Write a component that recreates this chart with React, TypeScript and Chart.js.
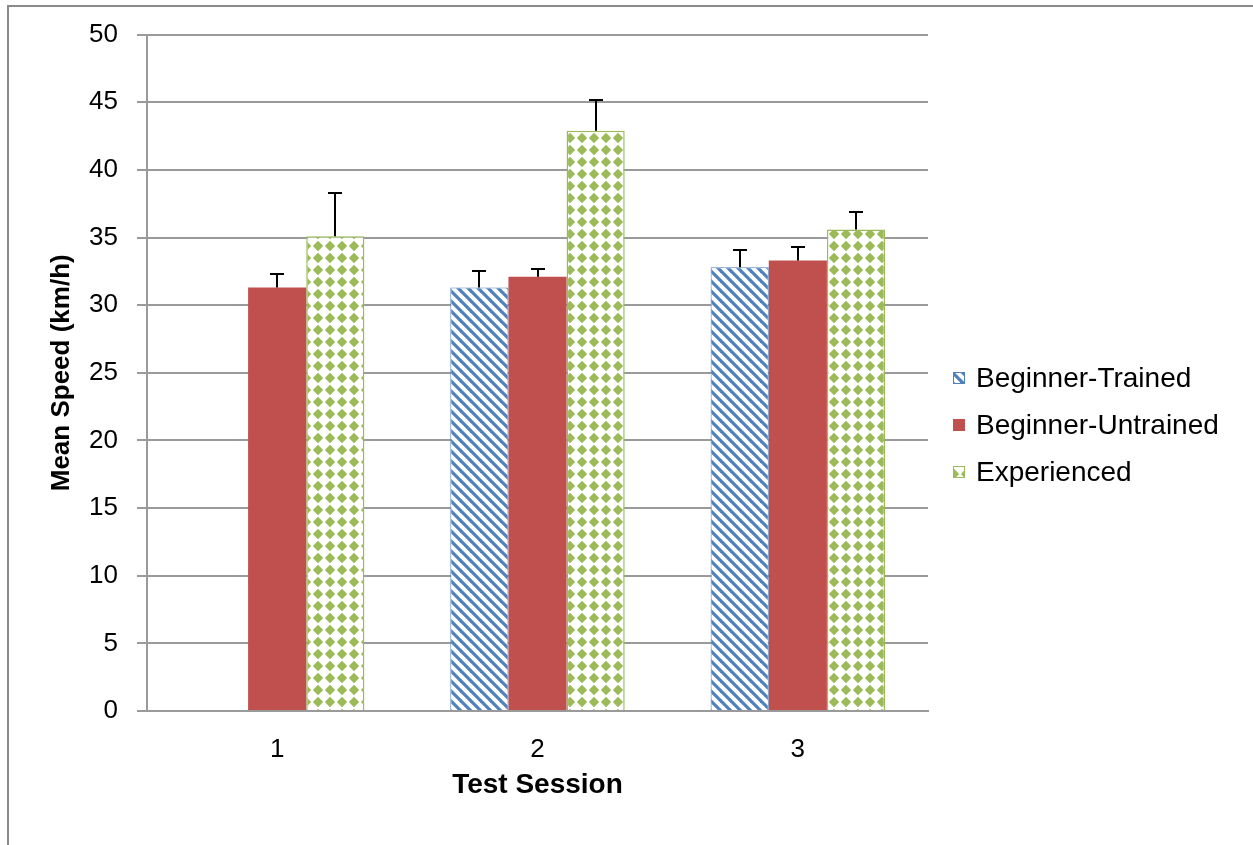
import React, { useEffect, useRef } from 'react';
import { Chart, registerables } from 'chart.js';

Chart.register(...registerables);

const categories = ['1', '2', '3'];
const seriesNames = ['Beginner-Trained', 'Beginner-Untrained', 'Experienced'];
const beginnerTrained: (number | null)[] = [null, 31.3, 32.8];
const beginnerUntrained: (number | null)[] = [31.3, 32.1, 33.3];
const experienced: (number | null)[] = [35.1, 42.9, 35.6];
const beginnerTrainedErr: (number | null)[] = [null, 1.2, 1.3];
const beginnerUntrainedErr: (number | null)[] = [1.0, 0.6, 1.0];
const experiencedErr: (number | null)[] = [3.2, 2.3, 1.3];
const yMin = 0;
const yMax = 50;
const yStep = 5;

const FONT = "'Liberation Sans', Arial, sans-serif";
const BLUE = '#4F81BD';
const RED = '#C0504D';
const GREEN = '#9BBB59';
const GRID = '#9a9a9a';

function makeStripePattern(): CanvasPattern | string {
  const c = document.createElement('canvas');
  const s = 10;
  c.width = s;
  c.height = s;
  const ctx = c.getContext('2d');
  if (!ctx) return BLUE;
  ctx.fillStyle = '#ffffff';
  ctx.fillRect(0, 0, s, s);
  ctx.strokeStyle = BLUE;
  ctx.lineWidth = 3.2;
  for (const off of [-s, 0, s]) {
    ctx.beginPath();
    ctx.moveTo(off - 1, -1);
    ctx.lineTo(off + s + 1, s + 1);
    ctx.stroke();
  }
  return ctx.createPattern(c, 'repeat') || BLUE;
}

function makeDiamondPattern(): CanvasPattern | string {
  const c = document.createElement('canvas');
  const s = 12;
  c.width = s;
  c.height = s;
  const ctx = c.getContext('2d');
  if (!ctx) return GREEN;
  ctx.fillStyle = '#ffffff';
  ctx.fillRect(0, 0, s, s);
  ctx.fillStyle = GREEN;
  const h = 5.2;
  ctx.beginPath();
  ctx.moveTo(6, 6 - h);
  ctx.lineTo(6 + h, 6);
  ctx.lineTo(6, 6 + h);
  ctx.lineTo(6 - h, 6);
  ctx.closePath();
  ctx.fill();
  return ctx.createPattern(c, 'repeat') || GREEN;
}

export default function App() {
  const ref = useRef<HTMLCanvasElement | null>(null);

  useEffect(() => {
    if (!ref.current) return;
    const stripe = makeStripePattern();
    const diamond = makeDiamondPattern();
    const errs = [beginnerTrainedErr, beginnerUntrainedErr, experiencedErr];
    const fills: any[] = [stripe, RED, diamond];
    const borders = [BLUE, RED, GREEN];

    const extras = {
      id: 'extras',
      beforeDraw(chart: any) {
        const ctx = chart.ctx;
        ctx.save();
        ctx.strokeStyle = '#8a8a8a';
        ctx.lineWidth = 2;
        ctx.beginPath();
        ctx.moveTo(8, chart.height);
        ctx.lineTo(8, 6);
        ctx.lineTo(chart.width, 6);
        ctx.stroke();
        ctx.restore();
      },
      afterDatasetsDraw(chart: any) {
        const ctx = chart.ctx;
        const yScale = chart.scales.y;
        ctx.save();
        ctx.strokeStyle = '#000000';
        ctx.lineWidth = 2;
        chart.data.datasets.forEach((ds: any, i: number) => {
          const meta = chart.getDatasetMeta(i);
          meta.data.forEach((bar: any, j: number) => {
            const v = ds.data[j];
            const e = errs[i][j];
            if (v == null || e == null) return;
            const x = Math.round(bar.x);
            const yTop = Math.round(yScale.getPixelForValue(v + e));
            const yBase = bar.y;
            ctx.beginPath();
            ctx.moveTo(x, yBase);
            ctx.lineTo(x, yTop);
            ctx.moveTo(x - 7, yTop);
            ctx.lineTo(x + 7, yTop);
            ctx.stroke();
          });
        });
        ctx.restore();
      },
      afterDraw(chart: any) {
        const ctx = chart.ctx;
        ctx.save();
        const rows = [378, 425, 472];
        seriesNames.forEach((name, i) => {
          const y = rows[i];
          const bx = 953;
          const bs = 12;
          ctx.fillStyle = fills[i];
          ctx.fillRect(bx, y - bs / 2, bs, bs);
          if (i !== 1) {
            ctx.strokeStyle = borders[i];
            ctx.lineWidth = 1;
            ctx.strokeRect(bx + 0.5, y - bs / 2 + 0.5, bs - 1, bs - 1);
          }
          ctx.fillStyle = '#000000';
          ctx.font = `28px ${FONT}`;
          ctx.textBaseline = 'middle';
          ctx.textAlign = 'left';
          ctx.fillText(name, 976, y + 1);
        });
        ctx.restore();
      },
    };

    const chart = new Chart(ref.current, {
      type: 'bar',
      data: {
        labels: categories,
        datasets: [
          {
            label: seriesNames[0],
            data: beginnerTrained,
            backgroundColor: stripe as any,
            borderColor: BLUE,
            borderWidth: 1,
          },
          {
            label: seriesNames[1],
            data: beginnerUntrained,
            backgroundColor: RED,
            borderColor: RED,
            borderWidth: 0,
          },
          {
            label: seriesNames[2],
            data: experienced,
            backgroundColor: diamond as any,
            borderColor: GREEN,
            borderWidth: 1.5,
          },
        ],
      },
      options: {
        responsive: false,
        animation: false,
        devicePixelRatio: 1,
        layout: { padding: { top: 33, right: 325, bottom: 43, left: 0 } },
        datasets: {
          bar: { categoryPercentage: 0.67, barPercentage: 1.0 },
        },
        plugins: {
          legend: { display: false },
          tooltip: { enabled: false },
          title: { display: false },
        },
        scales: {
          x: {
            grid: { display: false, drawTicks: false },
            border: { display: true, color: GRID, width: 2 },
            ticks: {
              color: '#000000',
              font: { family: FONT, size: 26 },
              padding: 23,
            },
            title: {
              display: true,
              text: 'Test Session',
              color: '#000000',
              font: { family: FONT, size: 28, weight: 'bold' },
              padding: 0,
            },
            afterFit(scale: any) {
              scale.height = 91;
            },
          },
          y: {
            min: yMin,
            max: yMax,
            grid: {
              color: GRID,
              lineWidth: 2,
              tickLength: 10,
              drawTicks: true,
            },
            border: { display: true, color: GRID, width: 2 },
            ticks: {
              stepSize: yStep,
              color: '#000000',
              font: { family: FONT, size: 26 },
              padding: 19,
            },
            title: {
              display: true,
              text: 'Mean Speed (km/h)',
              color: '#000000',
              font: { family: FONT, size: 26, weight: 'bold' },
              padding: { top: 46, bottom: 0 },
            },
            afterFit(scale: any) {
              scale.width = 147;
            },
          },
        },
      },
      plugins: [extras],
    });
    return () => chart.destroy();
  }, []);

  return (
    <div style={{ position: 'absolute', left: 0, top: 0, width: 1253, height: 845, background: '#ffffff' }}>
      <canvas ref={ref} width={1253} height={845} style={{ display: 'block' }} />
    </div>
  );
}
